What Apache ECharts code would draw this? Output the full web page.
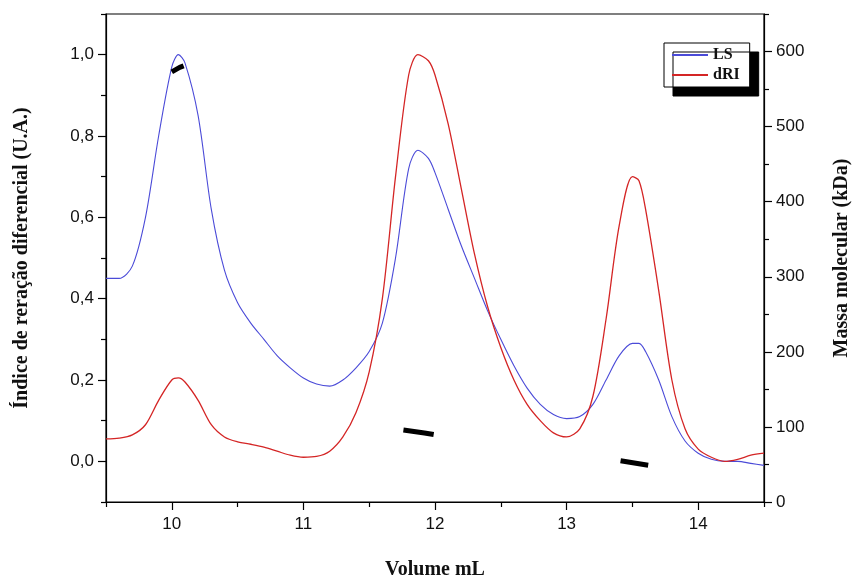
<!DOCTYPE html>
<html>
<head>
<meta charset="utf-8">
<script src="https://cdn.jsdelivr.net/npm/echarts@6/dist/echarts.min.js"></script>
<style>html,body{margin:0;padding:0;background:#fff}#c{width:860px;height:585px}</style>
</head>
<body>
<div id="c"></div>
<script>
// Volume (mL) sample positions
var volume = [9.5,9.6,9.7,9.8,9.9,10.0,10.05,10.1,10.2,10.3,10.4,10.5,10.6,10.7,10.8,10.9,11.0,11.1,11.2,11.3,11.4,11.5,11.6,11.7,11.8,11.87,11.95,12.0,12.1,12.2,12.3,12.4,12.5,12.6,12.7,12.8,12.9,13.0,13.1,13.2,13.3,13.4,13.5,13.55,13.6,13.7,13.8,13.9,14.0,14.1,14.2,14.3,14.4,14.5];
// LS signal (normalised)
var lsValues = [0.45,0.45,0.48,0.6,0.8,0.97,1.0,0.98,0.85,0.62,0.47,0.39,0.34,0.30,0.26,0.23,0.205,0.19,0.185,0.2,0.23,0.27,0.34,0.5,0.72,0.765,0.745,0.71,0.62,0.53,0.45,0.37,0.3,0.235,0.18,0.14,0.115,0.105,0.11,0.14,0.2,0.26,0.29,0.29,0.27,0.2,0.11,0.05,0.02,0.005,0.0,0.0,-0.005,-0.01];
// dRI signal (normalised)
var driValues = [0.055,0.057,0.065,0.09,0.15,0.2,0.205,0.195,0.15,0.09,0.06,0.048,0.042,0.035,0.025,0.015,0.01,0.012,0.025,0.06,0.12,0.22,0.4,0.7,0.95,1.0,0.985,0.95,0.83,0.67,0.51,0.38,0.28,0.2,0.14,0.1,0.07,0.06,0.08,0.16,0.35,0.58,0.7,0.69,0.62,0.42,0.2,0.08,0.03,0.01,0.0,0.005,0.015,0.02];
// Molecular mass (kDa) segments
var mm1Vol = [10.0,10.03,10.06,10.09];
var mm1Val = [573,576,579,581];
var mm2Vol = [11.76,11.84,11.92,11.99];
var mm2Val = [96,94,92,90];
var mm3Vol = [13.41,13.48,13.55,13.62];
var mm3Val = [55,53,51,49];
// tick labels
var xLabels = [10,11,12,13,14];
var xMinor = [9.5,10.5,11.5,12.5,13.5,14.5];
var yLeftLabels = [0,0.2,0.4,0.6,0.8,1.0];
var yLeftMinor = [-0.1,0.1,0.3,0.5,0.7,0.9,1.1];
var yRightLabels = [0,100,200,300,400,500,600];
var yRightMinor = [50,150,250,350,450,550,650];

function pairs(xs, ys){ return xs.map(function(x,i){return [x, ys[i]];}); }

var tickFont = {fontFamily:'Liberation Sans, Arial', fontSize:17, color:'#111'};
var nameFont = {fontFamily:'Liberation Serif, Times New Roman', fontSize:20, fontWeight:'bold', color:'#111'};
var lineStyle = {color:'#000', width:1.2};

var chart = echarts.init(document.getElementById('c'));
chart.setOption({
  animation:false,
  backgroundColor:'#fff',
  grid:{left:106, right:88, top:14, bottom:78, show:true, borderColor:'#000', borderWidth:1.2, backgroundColor:'transparent'},
  legend:{
    data:['LS','dRI'], orient:'vertical', left:664, top:43,
    backgroundColor:'#fff', borderColor:'#000', borderWidth:1,
    shadowColor:'#000', shadowBlur:0, shadowOffsetX:9, shadowOffsetY:9,
    padding:[4,10,4,8], itemGap:4, itemWidth:36, itemHeight:2, icon:'rect',
    textStyle:{fontFamily:'Liberation Serif, Times New Roman', fontSize:16, fontWeight:'bold', color:'#111'}
  },
  xAxis:[
    {type:'value', min:9.5, max:14.5, position:'bottom',
     name:'Volume mL', nameLocation:'middle', nameGap:58, nameTextStyle:nameFont,
     axisLine:{show:true, onZero:false, lineStyle:lineStyle},
     axisTick:{show:true, length:8, lineStyle:lineStyle, customValues:xLabels},
     axisLabel:Object.assign({margin:14, customValues:xLabels}, tickFont),
     splitLine:{show:false}},
    {type:'value', min:9.5, max:14.5, position:'bottom', gridIndex:0,
     axisLine:{show:false, onZero:false}, axisLabel:{show:false}, splitLine:{show:false},
     axisTick:{show:true, length:5, lineStyle:lineStyle, customValues:xMinor}}
  ],
  yAxis:[
    {type:'value', min:-0.1, max:1.1, position:'left',
     name:'Índice de reração diferencial (U.A.)', nameLocation:'middle', nameGap:74, nameRotate:90, nameTextStyle:nameFont,
     axisLine:{show:true, onZero:false, lineStyle:lineStyle},
     axisTick:{show:true, length:8, lineStyle:lineStyle, customValues:yLeftLabels},
     axisLabel:Object.assign({margin:12, customValues:yLeftLabels, formatter:function(v){return v.toFixed(1).replace('.',',');}}, tickFont),
     splitLine:{show:false}},
    {type:'value', min:0, max:650, position:'right',
     name:'Massa molecular (kDa)', nameLocation:'middle', nameGap:68, nameRotate:90, nameTextStyle:nameFont,
     axisLine:{show:true, onZero:false, lineStyle:lineStyle},
     axisTick:{show:true, length:8, lineStyle:lineStyle, customValues:yRightLabels},
     axisLabel:Object.assign({margin:12, customValues:yRightLabels}, tickFont),
     splitLine:{show:false}},
    {type:'value', min:-0.1, max:1.1, position:'left',
     axisLine:{show:false, onZero:false}, axisLabel:{show:false}, splitLine:{show:false},
     axisTick:{show:true, length:5, lineStyle:lineStyle, customValues:yLeftMinor}},
    {type:'value', min:0, max:650, position:'right',
     axisLine:{show:false, onZero:false}, axisLabel:{show:false}, splitLine:{show:false},
     axisTick:{show:true, length:5, lineStyle:lineStyle, customValues:yRightMinor}}
  ],
  series:[
    {name:'LS', type:'line', data:pairs(volume, lsValues), smooth:0.3, showSymbol:false,
     itemStyle:{color:'#4b4bd8'}, lineStyle:{color:'#4b4bd8', width:1.1}},
    {name:'dRI', type:'line', data:pairs(volume, driValues), smooth:0.3, showSymbol:false,
     itemStyle:{color:'#d42525'}, lineStyle:{color:'#d42525', width:1.3}},
    {name:'MM1', type:'line', yAxisIndex:1, data:pairs(mm1Vol, mm1Val), showSymbol:false,
     lineStyle:{color:'#000', width:5}, z:5},
    {name:'MM2', type:'line', yAxisIndex:1, data:pairs(mm2Vol, mm2Val), showSymbol:false,
     lineStyle:{color:'#000', width:5}, z:5},
    {name:'MM3', type:'line', yAxisIndex:1, data:pairs(mm3Vol, mm3Val), showSymbol:false,
     lineStyle:{color:'#000', width:5}, z:5}
  ]
});
</script>
</body>
</html>
